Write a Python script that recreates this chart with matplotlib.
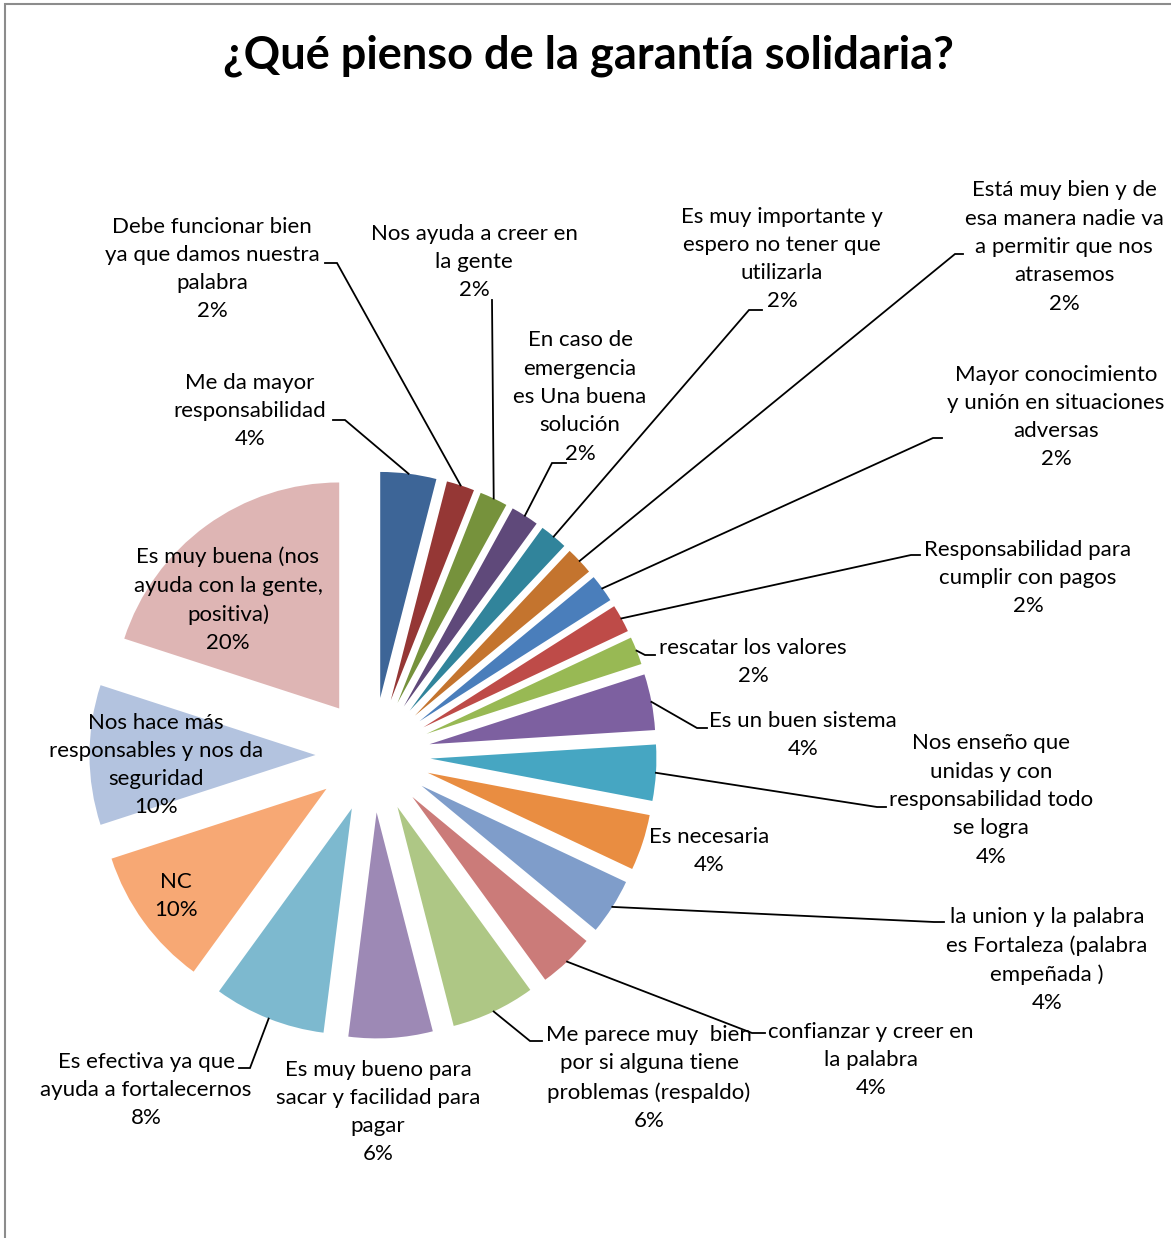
import numpy as np
import matplotlib.pyplot as plt
from matplotlib.patches import Rectangle

plt.rcParams['font.family'] = ['Lato', 'DejaVu Sans']

W, H = 1171, 1238

# survey answers, clockwise from 12 o'clock
answers = [
    'Me da mayor\nresponsabilidad',
    'Debe funcionar bien\nya que damos nuestra\npalabra',
    'Nos ayuda a creer en\nla gente',
    'En caso de\nemergencia\nes Una buena\nsolución',
    'Es muy importante y\nespero no tener que\nutilizarla',
    'Está muy bien y de\nesa manera nadie va\na permitir que nos\natrasemos',
    'Mayor conocimiento\ny unión en situaciones\nadversas',
    'Responsabilidad para\ncumplir con pagos',
    'rescatar los valores',
    'Es un buen sistema',
    'Nos enseño que\nunidas y con\nresponsabilidad todo\nse logra',
    'Es necesaria',
    'la union y la palabra\nes Fortaleza (palabra\nempeñada )',
    'confianzar y creer en\nla palabra',
    'Me parece muy  bien\npor si alguna tiene\nproblemas (respaldo)',
    'Es muy bueno para\nsacar y facilidad para\npagar',
    'Es efectiva ya que\nayuda a fortalecernos',
    'NC',
    'Nos hace más\nresponsables y nos da\nseguridad',
    'Es muy buena (nos\nayuda con la gente,\npositiva)',
]
percent = [4, 2, 2, 2, 2, 2, 2, 2, 2, 4, 4, 4, 4, 4, 6, 6, 8, 10, 10, 20]

colors = ['#3D6597', '#953735', '#76923C', '#5F497A', '#31849B',
          '#C4742E', '#4A7EBB', '#BE4B48', '#98B954', '#7D60A0',
          '#46A6C2', '#E98D41', '#7F9DCA', '#CB7B79', '#AEC785',
          '#9D89B5', '#7DB9CF', '#F7A874', '#B3C3DF', '#DEB5B4']

# label centres and leader elbows in pixel space (y measured from top)
label_pos = [(250, 411), (212, 269), (474, 262), (580, 397), (782, 259),
             (1064, 247), (1056, 417), (1028, 578), (753, 662), (803, 735),
             (991, 800), (709, 851), (1047, 960), (871, 1060), (649, 1078),
             (378, 1112), (146, 1090), (176, 896), (156, 765), (228, 600)]
elbows = [((345, 420), (333, 420)), ((337, 263), (325, 263)),
          ((492, 300), (492, 300)), ((552, 463), (566, 463)),
          ((749, 310), (762, 310)), ((955, 254), (963, 254)),
          ((933, 438), (942, 438)), ((911, 555), (920, 555)),
          ((645, 655), (655, 655)), ((697, 728), (707, 728)),
          ((877, 807), (886, 807)), None,
          ((934, 922), (944, 922)), ((752, 1033), (765, 1033)),
          ((530, 1041), (542, 1041)), None,
          ((250, 1068), (239, 1068)), None, None, None]

fig = plt.figure(figsize=(W / 100, H / 100), dpi=100)
ax = fig.add_axes([0, 0, 1, 1])

R = 226
cx, cy = 373, H - 755
wedges, _ = ax.pie(percent, colors=colors, startangle=90, counterclock=False,
                   radius=R, center=(cx, cy),
                   explode=[57.5] * len(percent),
                   wedgeprops=dict(linewidth=0))
ax.set_xlim(0, W)
ax.set_ylim(0, H)
ax.set_aspect('auto')
ax.axis('off')

for w, txt, p, pos, el in zip(wedges, answers, percent, label_pos, elbows):
    ax.text(pos[0], H - pos[1], f'{txt}\n{p}%', ha='center', va='center',
            fontsize=16, linespacing=1.52, color='#000000')
    if el is None:
        continue
    mid = np.deg2rad((w.theta1 + w.theta2) / 2)
    x0 = w.center[0] + R * np.cos(mid)
    y0 = w.center[1] + R * np.sin(mid)
    (kx, ky), (ex, ey) = el
    ax.plot([x0, kx, ex], [y0, H - ky, H - ey], color='black', lw=1.3,
            solid_joinstyle='miter')

fig.text(588 / W, 1 - 56 / H, '¿Qué pienso de la garantía solidaria?',
         ha='center', va='center', fontsize=32.5, fontweight='bold')

# chart frame
fig.patches.append(Rectangle((5 / W, -0.1), 1.2, 1 - 4 / H + 0.1,
                             transform=fig.transFigure, fill=False,
                             edgecolor='#8C8C8C', lw=1.5))

fig.savefig('out.png', dpi=100)
